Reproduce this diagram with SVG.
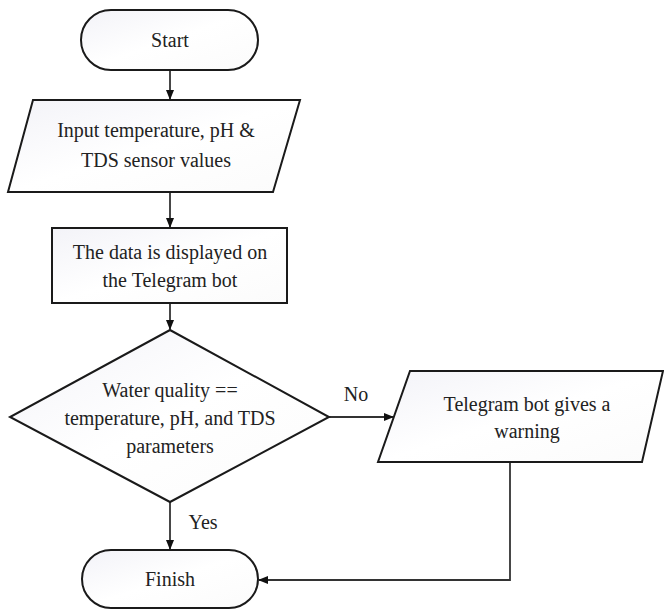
<svg xmlns="http://www.w3.org/2000/svg" width="664" height="610" viewBox="0 0 664 610" font-family="Liberation Serif, Times New Roman, Times, serif">
<style>
.s{fill:url(#g);stroke:#1a1a1a;stroke-width:2}
.t{font-size:20px;fill:#222;text-anchor:middle}
.c{fill:none;stroke:#333;stroke-width:1.8}
</style>
<defs>
<linearGradient id="g" x1="0" y1="0" x2="1" y2="1">
<stop offset="0" stop-color="#f3f3f8"/>
<stop offset="0.5" stop-color="#ffffff"/>
<stop offset="1" stop-color="#fbfbfb"/>
</linearGradient>
<marker id="a" markerWidth="10" markerHeight="10" refX="9" refY="5" orient="auto" markerUnits="userSpaceOnUse">
<path d="M0,1 L10,5 L0,9 Z" fill="#111"/>
</marker>
</defs>
<rect width="664" height="610" fill="#fff"/>
<g id="connectors">
<line class="c" x1="170" y1="70" x2="170" y2="99" marker-end="url(#a)"/>
<line class="c" x1="170" y1="192" x2="170" y2="227" marker-end="url(#a)"/>
<line class="c" x1="170" y1="303" x2="170" y2="329" marker-end="url(#a)"/>
<line class="c" x1="329" y1="417" x2="393" y2="417" marker-end="url(#a)"/>
<line class="c" x1="170" y1="502" x2="170" y2="549" marker-end="url(#a)"/>
<polyline class="c" points="510,462 510,580 259,580" marker-end="url(#a)"/>
<text class="t" x="356" y="401">No</text>
<text class="t" x="203" y="529">Yes</text>
</g>
<g id="start">
<rect class="s" x="81" y="10" width="177" height="60" rx="30"/>
<text class="t" x="170" y="47">Start</text>
</g>
<g id="input">
<polygon class="s" points="33,100 300,100 273,192 8,192"/>
<text class="t" x="156" y="137">Input temperature, pH &amp;</text>
<text class="t" x="156" y="167">TDS sensor values</text>
</g>
<g id="display">
<rect class="s" x="52" y="228" width="235" height="75"/>
<text class="t" x="170" y="259">The data is displayed on</text>
<text class="t" x="170" y="287">the Telegram bot</text>
</g>
<g id="decision">
<polygon class="s" points="170,330 329,417 170,502 10,417"/>
<text class="t" x="170" y="397">Water quality ==</text>
<text class="t" x="170" y="425">temperature, pH, and TDS</text>
<text class="t" x="170" y="453">parameters</text>
</g>
<g id="warning">
<polygon class="s" points="410,371 663,371 642,462 378,462"/>
<text class="t" x="527" y="411">Telegram bot gives a</text>
<text class="t" x="527" y="438">warning</text>
</g>
<g id="finish">
<rect class="s" x="82" y="550" width="176" height="58" rx="29"/>
<text class="t" x="170" y="586">Finish</text>
</g>
</svg>
